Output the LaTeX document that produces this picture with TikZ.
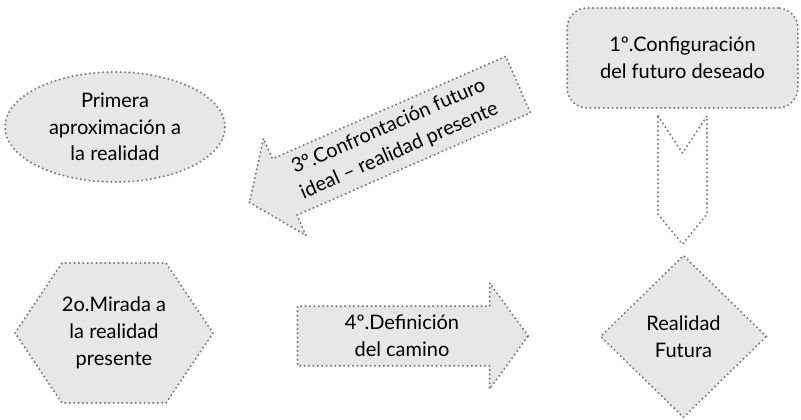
\documentclass[tikz,border=0pt]{standalone}
\usepackage{fontspec}
\setmainfont{Lato}
\usepackage{tikz}
\usetikzlibrary{arrows.meta,calc,positioning,shapes.geometric,shapes.arrows}
\definecolor{relleno}{RGB}{231,231,232}
\definecolor{puntos}{RGB}{120,120,120}

\begin{document}
\begin{tikzpicture}[
  x=0.75pt, y=0.75pt,
  borde/.style={draw=puntos, line width=1.7pt, dash pattern=on 0pt off 3.3pt, line cap=round},
  punteado/.style={borde, fill=relleno},
  texto/.style={align=center, font=\fontsize{15}{20}\selectfont, inner sep=0pt},
  caja/.style={punteado, texto, rounded corners=15pt, minimum width=173pt, minimum height=75pt},
  elipse/.style={punteado, texto, ellipse, minimum width=165pt, minimum height=82.5pt},
  rombo/.style={punteado, texto, diamond, minimum width=125pt, minimum height=122pt},
  flecha/.style={punteado, texto, single arrow, single arrow tip angle=108, single arrow head extend=12.75pt, minimum width=79.5pt}
]
\useasboundingbox (0,0) rectangle (801,420);

\node[elipse] (aprox) at (115,293) {Primera\\aproximación a\\la realidad};
\node[caja] (config) at (682.5,362) {1º.Configuración\\del futuro deseado};
\node[rombo] (futuro) at (683.5,83.5) {Realidad\\Futura};

% flecha de 1 a la realidad futura
\draw[borde] ($(config.south)+(-24.5,-7)$) -- ($(config.south)+(0,-44)$) -- ($(config.south)+(24.5,-7)$)
  -- ($(config.south)+(24.5,-105)$) -- ($(config.south)+(0,-135)$) -- ($(config.south)+(-24.5,-105)$) -- cycle;

\node[flecha, minimum height=220pt, shape border rotate=180, rotate=23.7] (confront) at (394,281)
  {3º.Confrontación futuro\\ideal -- realidad presente};

\coordinate (c2) at (114,87);
\draw[punteado] ($(c2)+(-99,0)$) -- ++(47,70) -- ++(104,0) -- ++(47,-70) -- ++(-47,-70) -- ++(-104,0) -- cycle;
\node[texto] (mirada) at (c2) {2o.Mirada a\\la realidad\\presente};

\node[flecha, minimum height=173pt] (camino) at (402,84) {4º.Definición\\del camino};
\end{tikzpicture}
\end{document}
